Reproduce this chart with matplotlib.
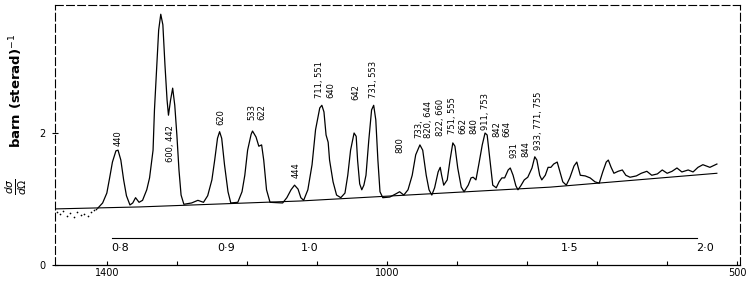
import matplotlib
matplotlib.use("Agg")
import matplotlib.pyplot as plt

# diffraction curve: channel number vs cross section (barn/sterad)
channel = [1413, 1406, 1400, 1396, 1392, 1387, 1384, 1380, 1376, 1372, 1367, 1363, 1359, 1354,
           1349, 1343, 1339, 1334, 1332, 1329, 1326, 1323, 1320, 1317, 1314, 1312, 1309, 1306,
           1303, 1300, 1297, 1294, 1290, 1279, 1270, 1262, 1256, 1250, 1246, 1242, 1239, 1236,
           1232, 1227, 1223, 1213, 1207, 1203, 1199, 1194, 1192, 1187, 1183, 1179, 1176, 1172,
           1167, 1149, 1143, 1137, 1132, 1127, 1123, 1119, 1113, 1107, 1102, 1096, 1093, 1090,
           1087, 1084, 1082, 1077, 1072, 1066, 1060, 1056, 1052, 1047, 1044, 1042, 1039, 1036,
           1033, 1030, 1026, 1022, 1019, 1016, 1013, 1010, 1006, 996, 987, 982, 976, 970,
           964, 959, 953, 949, 944, 940, 936, 932, 927, 924, 922, 919, 914, 910,
           906, 903, 899, 894, 890, 884, 880, 877, 873, 869, 864, 860, 857, 853,
           849, 844, 840, 836, 832, 827, 824, 820, 816, 813, 809, 804, 799, 793,
           789, 786, 782, 779, 774, 770, 766, 762, 757, 753, 749, 744, 739, 733,
           729, 724, 717, 710, 703, 697, 692, 687, 684, 680, 676, 670, 664, 659,
           653, 644, 637, 629, 622, 614, 607, 600, 593, 586, 579, 570, 563, 556,
           549, 539, 529]
sigma = [0.86, 0.94, 1.09, 1.32, 1.56, 1.73, 1.74, 1.59, 1.29, 1.05, 0.91, 0.94, 1.02, 0.95,
         0.98, 1.14, 1.32, 1.74, 2.35, 2.95, 3.56, 3.80, 3.64, 3.03, 2.50, 2.27, 2.50, 2.68,
         2.42, 1.97, 1.44, 1.06, 0.92, 0.94, 0.98, 0.95, 1.05, 1.29, 1.59, 1.92, 2.02, 1.92,
         1.52, 1.11, 0.94, 0.95, 1.11, 1.36, 1.74, 1.98, 2.03, 1.94, 1.80, 1.82, 1.59, 1.14,
         0.95, 0.94, 1.02, 1.14, 1.21, 1.15, 1.02, 0.98, 1.14, 1.52, 2.05, 2.38, 2.42, 2.32,
         1.97, 1.86, 1.59, 1.26, 1.06, 1.02, 1.09, 1.36, 1.74, 2.00, 1.95, 1.59, 1.23, 1.14,
         1.21, 1.36, 1.89, 2.35, 2.42, 2.20, 1.59, 1.11, 1.02, 1.03, 1.08, 1.11, 1.06, 1.14,
         1.36, 1.67, 1.82, 1.74, 1.36, 1.14, 1.06, 1.17, 1.41, 1.48, 1.36, 1.21, 1.29, 1.59,
         1.85, 1.80, 1.47, 1.18, 1.11, 1.21, 1.32, 1.33, 1.29, 1.52, 1.82, 2.00, 1.97, 1.59,
         1.21, 1.17, 1.26, 1.32, 1.32, 1.44, 1.47, 1.36, 1.20, 1.14, 1.20, 1.29, 1.33, 1.47,
         1.64, 1.59, 1.36, 1.29, 1.36, 1.48, 1.48, 1.53, 1.56, 1.41, 1.26, 1.21, 1.32, 1.50,
         1.56, 1.36, 1.35, 1.32, 1.26, 1.24, 1.41, 1.56, 1.59, 1.48, 1.39, 1.42, 1.44, 1.36,
         1.33, 1.35, 1.39, 1.42, 1.36, 1.38, 1.44, 1.39, 1.42, 1.47, 1.41, 1.44, 1.41, 1.48,
         1.52, 1.48, 1.53]

# background line under the peaks
baseline_channel = [1474, 1353, 1124, 767, 529]
baseline_sigma = [0.85, 0.88, 0.97, 1.18, 1.39]

# scattered measured points at the low angle end
dots_channel = [1471, 1467, 1462, 1457, 1452, 1447, 1442, 1437, 1432, 1427, 1422, 1418, 1415]
dots_sigma = [0.80, 0.77, 0.82, 0.75, 0.79, 0.73, 0.81, 0.76, 0.78, 0.74, 0.80, 0.83, 0.85]

# reflection indices written above the peaks
hkl_labels = ["440", "600, 442", "620", "533", "622", "444", "711, 551", "640", "642",
              "731, 553", "800", "733,", "820, 644", "822, 660", "751, 555", "662", "840",
              "911, 753", "842", "664", "931", "844", "933, 771, 755"]
hkl_channel = [1384, 1309, 1237, 1193, 1179, 1130, 1097, 1080, 1044,
               1019, 982, 954, 941, 924, 907, 892, 876,
               859, 843, 829, 819, 802, 783]
hkl_sigma = [1.80, 1.56, 2.12, 2.20, 2.20, 1.32, 2.53, 2.53, 2.50,
             2.53, 1.70, 1.92, 1.92, 1.95, 1.98, 1.98, 1.98,
             2.05, 1.94, 1.94, 1.62, 1.64, 1.74]

# inner scale drawn inside the frame
scale_labels = ["0·8", "0·9", "1·0", "1·5", "2·0"]
scale_channel = [1381, 1230, 1110, 739, 546]
scale_span = [1392, 557]
scale_level = 0.41

channel_ticks = [1400, 1000, 500]
channel_minor = [1300, 1200, 1100, 900, 800, 700, 600]
sigma_ticks = [0, 2]


def main():
    fig = plt.figure(figsize=(7.53, 2.81), dpi=100)
    ax = fig.add_axes([55 / 753, 16 / 281, 685 / 753, 260 / 281])

    ax.plot(channel, sigma, color="black", lw=0.9)
    ax.plot(baseline_channel, baseline_sigma, color="black", lw=0.8)
    ax.scatter(dots_channel, dots_sigma, s=1.5, color="black", lw=0)

    for text, c, s in zip(hkl_labels, hkl_channel, hkl_sigma):
        ax.text(c, s, text, rotation=90, ha="center", va="bottom", fontsize=6)

    # inner scale line with its labels
    ax.plot(scale_span, [scale_level, scale_level], color="black", lw=0.8)
    for text, c in zip(scale_labels, scale_channel):
        ax.text(c, scale_level - 0.08, text, ha="center", va="top", fontsize=8)

    ax.set_xlim(1474, 496)
    ax.set_ylim(0, 3.94)

    ax.set_xticks(channel_ticks)
    ax.set_xticklabels([str(t) for t in channel_ticks], fontsize=7)
    ax.set_xticks(channel_minor, minor=True)
    ax.set_yticks(sigma_ticks)
    ax.set_yticklabels([str(t) for t in sigma_ticks], fontsize=7)
    ax.tick_params(axis="x", which="both", direction="in", length=3, pad=2, width=0.8)
    ax.tick_params(axis="y", direction="inout", length=4, pad=5, width=0.8)

    for side in ["top", "right", "left"]:
        ax.spines[side].set_linestyle((0, (7, 3)))
        ax.spines[side].set_linewidth(0.8)
    ax.spines["bottom"].set_linewidth(0.9)

    # y axis label: d sigma / d omega, barn (sterad)^-1
    fig.text(0.022, 0.335, r"$\frac{d\sigma}{d\Omega}$", rotation=90, ha="center", va="center", fontsize=11)
    fig.text(0.022, 0.675, r"barn (sterad)$^{-1}$", rotation=90, ha="center", va="center",
             fontsize=9.5, fontweight="bold")

    fig.savefig("out.png", dpi=100)
    plt.close(fig)


if __name__ == "__main__":
    main()
